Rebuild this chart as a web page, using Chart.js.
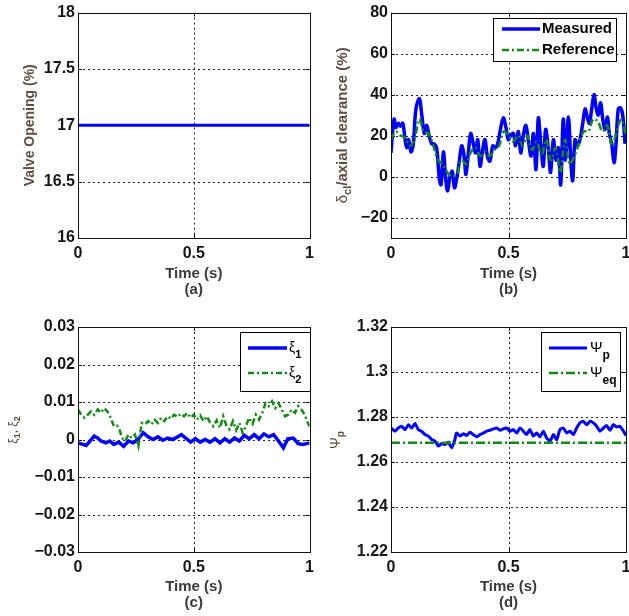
<!DOCTYPE html>
<html><head><meta charset="utf-8">
<script src="https://cdn.jsdelivr.net/npm/chart.js@4.4.0/dist/chart.umd.min.js"></script>
<style>
html,body{margin:0;padding:0;background:#fff;overflow:hidden;width:629px;height:616px}
.p{position:absolute}
</style></head><body>
<div class="p" style="left:0;top:0"><canvas id="ca" width="320" height="300"></canvas></div>
<div class="p" style="left:310px;top:0"><canvas id="cb" width="330" height="300"></canvas></div>
<div class="p" style="left:0;top:300px"><canvas id="cc" width="320" height="316"></canvas></div>
<div class="p" style="left:310px;top:300px"><canvas id="cd" width="330" height="316"></canvas></div>
<script>
// ---------- data ----------
const timeTicks = [0, 0.5, 1];

const valveTicks = [16, 16.5, 17, 17.5, 18];
const valveTime = [0, 1];
const valveOpening = [17, 17];

const clearanceTicks = [-20, 0, 20, 40, 60, 80];
const measuredTime = [0,0.013,0.021,0.031,0.041,0.050,0.060,0.067,0.075,0.085,0.095,0.106,0.121,0.130,0.142,0.152,0.162,0.173,0.183,0.194,0.206,0.213,0.223,0.233,0.241,0.251,0.261,0.270,0.279,0.289,0.301,0.311,0.319,0.329,0.339,0.350,0.360,0.369,0.379,0.390,0.400,0.410,0.421,0.433,0.443,0.454,0.464,0.478,0.489,0.499,0.509,0.521,0.530,0.542,0.552,0.563,0.574,0.584,0.596,0.606,0.617,0.627,0.638,0.648,0.658,0.670,0.679,0.691,0.702,0.712,0.722,0.733,0.743,0.755,0.765,0.773,0.783,0.793,0.804,0.816,0.826,0.835,0.844,0.854,0.864,0.872,0.882,0.892,0.901,0.911,0.921,0.929,0.939,0.949,0.957,0.967,0.977,0.986,0.996];
const measured = [11.5,28,24,26,24.5,26,18,14,18,12,16,33,38,31,21,25,20,16,16,14,-1.5,-4,12,-1.5,-7,0,2.5,-5.5,-1.5,6,15,10,1,11.5,21,16,11.5,18,5,13,18,10,7.5,15,14,16,22,28.6,24,18,20,21,15,22,11.5,20,25,18,10,21,3.4,28.6,15,5,23,13,2,18,8,14,-4,28,8,29,8,-2,18,15,18,26,33,29,26,33,40,34,30,36,28,23,29,21,16,6.7,15,33,33.5,30,16];
const referenceTime = [0,0.02,0.04,0.06,0.08,0.10,0.12,0.14,0.16,0.18,0.20,0.22,0.24,0.26,0.28,0.30,0.32,0.34,0.36,0.38,0.40,0.42,0.44,0.46,0.48,0.50,0.52,0.54,0.56,0.58,0.60,0.62,0.64,0.66,0.68,0.70,0.72,0.74,0.76,0.78,0.80,0.82,0.84,0.86,0.88,0.90,0.92,0.94,0.96,0.98,1.00];
const reference = [18,22,20,19,15,18,28,22,21,15,8,6,2,0,1,8,6,12,14,10,12,10,13,15,22,20,17,20,15,20,13,17,10,18,8,14,2,18,6,10,16,22,22,28,27,22,25,15,22,28,20];

const xiTicks = [-0.03, -0.02, -0.01, 0, 0.01, 0.02, 0.03];
const xi1Time = [0,0.021,0.035,0.052,0.070,0.085,0.099,0.120,0.137,0.155,0.176,0.197,0.218,0.239,0.261,0.282,0.303,0.324,0.345,0.366,0.387,0.408,0.430,0.446,0.465,0.486,0.507,0.528,0.549,0.570,0.592,0.613,0.634,0.655,0.676,0.697,0.718,0.739,0.761,0.782,0.803,0.824,0.845,0.866,0.887,0.906,0.930,0.951,0.972,1.0];
const xi1 = [-0.0009,-0.0013,-0.0016,-0.0004,0.0009,0.0004,-0.0004,-0.0009,-0.0004,-0.0013,-0.0007,-0.0018,-0.0004,-0.0009,0.0002,0.0018,0.0007,0,0.0007,-0.0002,0.0004,0,0.0007,0.0013,0.0004,-0.0007,0.0002,-0.0007,0,-0.0007,0.0002,-0.0009,0.0002,-0.0007,0.0004,-0.0004,0.0011,0.0002,0.0013,0.0002,0.0015,0.0007,0.0013,-0.0004,-0.0022,0.0002,0.0004,-0.0011,-0.0013,-0.0009];
const xi2Time = [0,0.014,0.028,0.042,0.056,0.070,0.085,0.099,0.113,0.127,0.141,0.155,0.169,0.179,0.190,0.204,0.218,0.232,0.246,0.261,0.275,0.289,0.303,0.317,0.331,0.345,0.359,0.373,0.387,0.401,0.415,0.430,0.444,0.458,0.472,0.486,0.500,0.514,0.528,0.542,0.556,0.570,0.585,0.599,0.613,0.627,0.641,0.655,0.669,0.683,0.697,0.711,0.725,0.739,0.754,0.768,0.782,0.796,0.810,0.824,0.838,0.852,0.866,0.880,0.894,0.908,0.923,0.937,0.951,0.965,0.979,0.993,1.0];
const xi2 = [0.0080,0.0066,0.0058,0.0066,0.0075,0.0066,0.0080,0.0071,0.0084,0.0075,0.0058,0.0035,0.0037,0.0027,0.0004,-0.0004,0.0013,0.0004,0.0013,-0.0018,0.0044,0.0040,0.0049,0.0040,0.0053,0.0044,0.0058,0.0049,0.0062,0.0055,0.0066,0.0060,0.0069,0.0062,0.0071,0.0058,0.0066,0.0053,0.0064,0.0049,0.0062,0.0046,0.0035,0.0051,0.0031,0.0062,0.0037,0.0027,0.0049,0.0025,0.0044,0.0018,0.0035,0.0058,0.0042,0.0066,0.0053,0.0071,0.0097,0.0089,0.0102,0.0084,0.0097,0.0080,0.0062,0.0066,0.0080,0.0071,0.0089,0.0080,0.0066,0.0044,0.0035];

const psiTicks = [1.22, 1.24, 1.26, 1.28, 1.30, 1.32];
const psiPTime = [0,0.017,0.031,0.045,0.060,0.074,0.088,0.102,0.116,0.130,0.145,0.159,0.173,0.187,0.201,0.216,0.230,0.244,0.258,0.272,0.279,0.294,0.308,0.322,0.336,0.350,0.365,0.379,0.393,0.407,0.421,0.435,0.450,0.464,0.478,0.492,0.506,0.521,0.535,0.549,0.563,0.577,0.591,0.606,0.620,0.634,0.648,0.662,0.677,0.691,0.705,0.719,0.733,0.748,0.762,0.776,0.790,0.804,0.818,0.833,0.847,0.861,0.875,0.889,0.904,0.918,0.932,0.946,0.960,0.974,0.989,1.0];
const psiP = [1.2751,1.2737,1.2751,1.2759,1.2744,1.2766,1.2751,1.2771,1.2744,1.2737,1.2722,1.2715,1.2700,1.2693,1.2671,1.2682,1.2678,1.2688,1.2663,1.2700,1.2729,1.2715,1.2726,1.2718,1.2732,1.2722,1.2712,1.2722,1.2729,1.2737,1.2741,1.2747,1.2751,1.2741,1.2747,1.2751,1.2737,1.2744,1.2729,1.2751,1.2737,1.2722,1.2744,1.2715,1.2729,1.2712,1.2737,1.2707,1.2693,1.2722,1.2700,1.2744,1.2751,1.2729,1.2737,1.2722,1.2751,1.2774,1.2781,1.2766,1.2781,1.2774,1.2759,1.2737,1.2751,1.2762,1.2741,1.2766,1.2756,1.2759,1.2737,1.2718];
const psiEqTime = [0, 1];
const psiEq = [1.2686, 1.2686];

// ---------- styling ----------
const FAM = '"Liberation Sans", Arial, Helvetica, sans-serif';
const BLUE = '#0000ff', GREEN = '#138a13';
const YT_COLOR = '#5e4c40', XT_COLOR = '#3a3a3a', TICK_COLOR = '#151515';

function pts(t, v){ return t.map((x,i)=>({x:x, y:v[i]})); }
function fmtNum(v){ return (Math.abs(v) < 1e-12 ? '0' : String(+v.toFixed(4))).replace('-', '\u2212'); }

function drawParts(ctx, parts, x, y, rotate, align){
  ctx.save();
  ctx.translate(x, y);
  if (rotate) ctx.rotate(-Math.PI/2);
  ctx.textBaseline = 'middle';
  ctx.textAlign = 'left';
  let total = 0;
  const ws = parts.map(p => { ctx.font = p.font; const w = ctx.measureText(p.t).width; total += w; return w; });
  let cx = align === 'left' ? 0 : -total/2;
  parts.forEach((p,i) => {
    ctx.font = p.font; ctx.fillStyle = p.color || '#000';
    ctx.fillText(p.t, cx, p.dy || 0);
    cx += ws[i];
  });
  ctx.restore();
}

const framePlugin = {
  id: 'frame',
  beforeDatasetsDraw(chart){
    const {ctx, chartArea:a, scales:{x, y}} = chart;
    ctx.save();
    ctx.strokeStyle = '#222'; ctx.lineWidth = 1; ctx.setLineDash([2,3]);
    x.ticks.forEach(t => {
      if (t.value <= x.min || t.value >= x.max) return;
      const px = Math.round(x.getPixelForValue(t.value)) + 0.5;
      ctx.beginPath(); ctx.moveTo(px, a.top); ctx.lineTo(px, a.bottom); ctx.stroke();
    });
    y.ticks.forEach(t => {
      if (t.value <= y.min || t.value >= y.max) return;
      const py = Math.round(y.getPixelForValue(t.value)) + 0.5;
      ctx.beginPath(); ctx.moveTo(a.left, py); ctx.lineTo(a.right, py); ctx.stroke();
    });
    ctx.setLineDash([]);
    ctx.strokeStyle = '#111';
    const L = 4;
    x.ticks.forEach(t => {
      const px = Math.round(x.getPixelForValue(t.value)) + 0.5;
      ctx.beginPath(); ctx.moveTo(px, a.bottom); ctx.lineTo(px, a.bottom - L);
      ctx.moveTo(px, a.top); ctx.lineTo(px, a.top + L); ctx.stroke();
    });
    y.ticks.forEach(t => {
      const py = Math.round(y.getPixelForValue(t.value)) + 0.5;
      ctx.beginPath(); ctx.moveTo(a.left, py); ctx.lineTo(a.left + L, py);
      ctx.moveTo(a.right, py); ctx.lineTo(a.right - L, py); ctx.stroke();
    });
    ctx.restore();
  },
  afterDatasetsDraw(chart, args, opts){
    const {ctx, chartArea:a} = chart;
    ctx.save();
    ctx.strokeStyle = '#111'; ctx.lineWidth = 1;
    ctx.strokeRect(Math.round(a.left)+0.5, Math.round(a.top)+0.5, Math.round(a.right-a.left), Math.round(a.bottom-a.top));
    const lg = opts.legend;
    if (lg){
      ctx.fillStyle = '#fff';
      ctx.fillRect(lg.x, lg.y, lg.w, lg.h);
      ctx.strokeStyle = '#000';
      ctx.strokeRect(lg.x+0.5, lg.y+0.5, lg.w, lg.h);
      lg.rows.forEach(r => {
        const ds = chart.data.datasets[r.ds];
        ctx.save();
        ctx.strokeStyle = ds.borderColor; ctx.lineWidth = ds.borderWidth;
        ctx.setLineDash(ds.borderDash || []);
        ctx.beginPath(); ctx.moveTo(lg.x0, r.y); ctx.lineTo(lg.x1, r.y); ctx.stroke();
        ctx.restore();
        drawParts(ctx, r.parts, lg.tx, r.y, false, 'left');
      });
    }
    ctx.restore();
  },
  afterDraw(chart, args, opts){
    const yt = opts.ytitle;
    if (yt){
      const a = chart.chartArea;
      const cy = yt.y != null ? yt.y : (a.top + a.bottom)/2;
      drawParts(chart.ctx, yt.parts, yt.x, cy, true, 'center');
    }
  }
};

function makeChart(id, cfg){
  const tickFont = {family: FAM, size: 16, weight: 'bold'};
  return new Chart(document.getElementById(id), {
    type: 'line',
    data: { datasets: cfg.datasets },
    options: {
      responsive: false, animation: false, events: [],
      layout: { padding: { top: cfg.padTop, right: cfg.padRight, left: 0, bottom: 0 } },
      elements: { point: { radius: 0 }, line: { fill: false } },
      plugins: { legend: { display: false }, tooltip: { enabled: false }, frame: cfg.frame },
      scales: {
        x: {
          type: 'linear', min: 0, max: 1,
          afterBuildTicks: s => { s.ticks = timeTicks.map(v => ({value: v})); },
          afterFit: s => { s.height = cfg.xHeight; },
          grid: { display: false, drawTicks: false }, border: { display: false },
          ticks: { font: tickFont, color: TICK_COLOR, padding: 6, maxRotation: 0, autoSkip: false, callback: v => fmtNum(v) },
          title: { display: true, text: ['Time (s)', cfg.letter], color: XT_COLOR,
                   font: {family: FAM, size: 15, weight: 'bold', lineHeight: 16/15}, padding: {top: 0, bottom: cfg.titlePadBottom} }
        },
        y: {
          type: 'linear', min: cfg.ymin, max: cfg.ymax,
          afterBuildTicks: s => { s.ticks = cfg.yTicks.map(v => ({value: v})); },
          afterFit: s => { s.width = cfg.yWidth; },
          grid: { display: false, drawTicks: false }, border: { display: false },
          ticks: { font: tickFont, color: TICK_COLOR, padding: 3, autoSkip: false, callback: v => fmtNum(v) }
        }
      }
    },
    plugins: [framePlugin]
  });
}

const F = (w, s) => w + ' ' + s + 'px ' + FAM;

makeChart('ca', {
  padTop: 12, padRight: 5, yWidth: 78, xHeight: 62, titlePadBottom: 2, letter: '(a)',
  ymin: 16, ymax: 18, yTicks: valveTicks,
  datasets: [{ label: 'Valve Opening', data: pts(valveTime, valveOpening), borderColor: BLUE, borderWidth: 3 }],
  frame: { ytitle: { x: 30, parts: [{t: 'Valve Opening (%)', font: F('bold', 14), color: YT_COLOR}] } }
});

makeChart('cb', {
  padTop: 12, padRight: 14, yWidth: 81, xHeight: 62, titlePadBottom: 2, letter: '(b)',
  ymin: -30, ymax: 80, yTicks: clearanceTicks,
  datasets: [
    { label: 'Measured', data: pts(measuredTime, measured), borderColor: BLUE, borderWidth: 3.5, tension: 0.35, order: 2 },
    { label: 'Reference', data: pts(referenceTime, reference), borderColor: GREEN, borderWidth: 2.5, borderDash: [7,3,2,3], tension: 0.35, order: 1 }
  ],
  frame: {
    ytitle: { x: 33, parts: [
      {t: '\u03b4', font: F('', 15), color: YT_COLOR},
      {t: 'cl', font: F('bold', 11), color: YT_COLOR, dy: 5},
      {t: '/axial clearance (%)', font: F('bold', 15), color: YT_COLOR}] },
    legend: { x: 183, y: 18, w: 123, h: 43, x0: 192, x1: 230, tx: 232, rows: [
      {ds: 0, y: 29, parts: [{t: 'Measured', font: F('bold', 15)}]},
      {ds: 1, y: 50, parts: [{t: 'Reference', font: F('bold', 15)}]}] }
  }
});

makeChart('cc', {
  padTop: 27, padRight: 5, yWidth: 78, xHeight: 64, titlePadBottom: 5, letter: '(c)',
  ymin: -0.03, ymax: 0.03, yTicks: xiTicks,
  datasets: [
    { label: '\u03be1', data: pts(xi1Time, xi1), borderColor: BLUE, borderWidth: 3.5, order: 2 },
    { label: '\u03be2', data: pts(xi2Time, xi2), borderColor: GREEN, borderWidth: 2.5, borderDash: [6,3,2,3], order: 1 }
  ],
  frame: {
    ytitle: { x: 14, y: 130, parts: [
      {t: '\u03be', font: F('', 12), color: YT_COLOR},
      {t: '1', font: F('bold', 9), color: YT_COLOR, dy: 4},
      {t: ', \u03be', font: F('', 12), color: YT_COLOR},
      {t: '2', font: F('bold', 9), color: YT_COLOR, dy: 4}] },
    legend: { x: 240, y: 32, w: 70, h: 59, x0: 248, x1: 287, tx: 289, rows: [
      {ds: 0, y: 48, parts: [{t: '\u03be', font: F('', 14)}, {t: '1', font: F('bold', 11), dy: 7}]},
      {ds: 1, y: 73, parts: [{t: '\u03be', font: F('', 14)}, {t: '2', font: F('bold', 11), dy: 7}]}] }
  }
});

makeChart('cd', {
  padTop: 27, padRight: 14, yWidth: 81, xHeight: 64, titlePadBottom: 5, letter: '(d)',
  ymin: 1.22, ymax: 1.32, yTicks: psiTicks,
  datasets: [
    { label: '\u03a8p', data: pts(psiPTime, psiP), borderColor: BLUE, borderWidth: 3, tension: 0.2, order: 2 },
    { label: '\u03a8eq', data: pts(psiEqTime, psiEq), borderColor: GREEN, borderWidth: 2.5, borderDash: [9,3,2,3], order: 1 }
  ],
  frame: {
    ytitle: { x: 26, y: 140, parts: [
      {t: '\u03a8', font: F('', 14), color: YT_COLOR},
      {t: 'p', font: F('bold', 10), color: YT_COLOR, dy: 5}] },
    legend: { x: 231, y: 32, w: 79, h: 59, x0: 239, x1: 277, tx: 280, rows: [
      {ds: 0, y: 48, parts: [{t: '\u03a8', font: F('', 15)}, {t: 'p', font: F('bold', 12), dy: 8}]},
      {ds: 1, y: 73, parts: [{t: '\u03a8', font: F('', 15)}, {t: 'eq', font: F('bold', 12), dy: 8}]}] }
  }
});
</script>
</body></html>
